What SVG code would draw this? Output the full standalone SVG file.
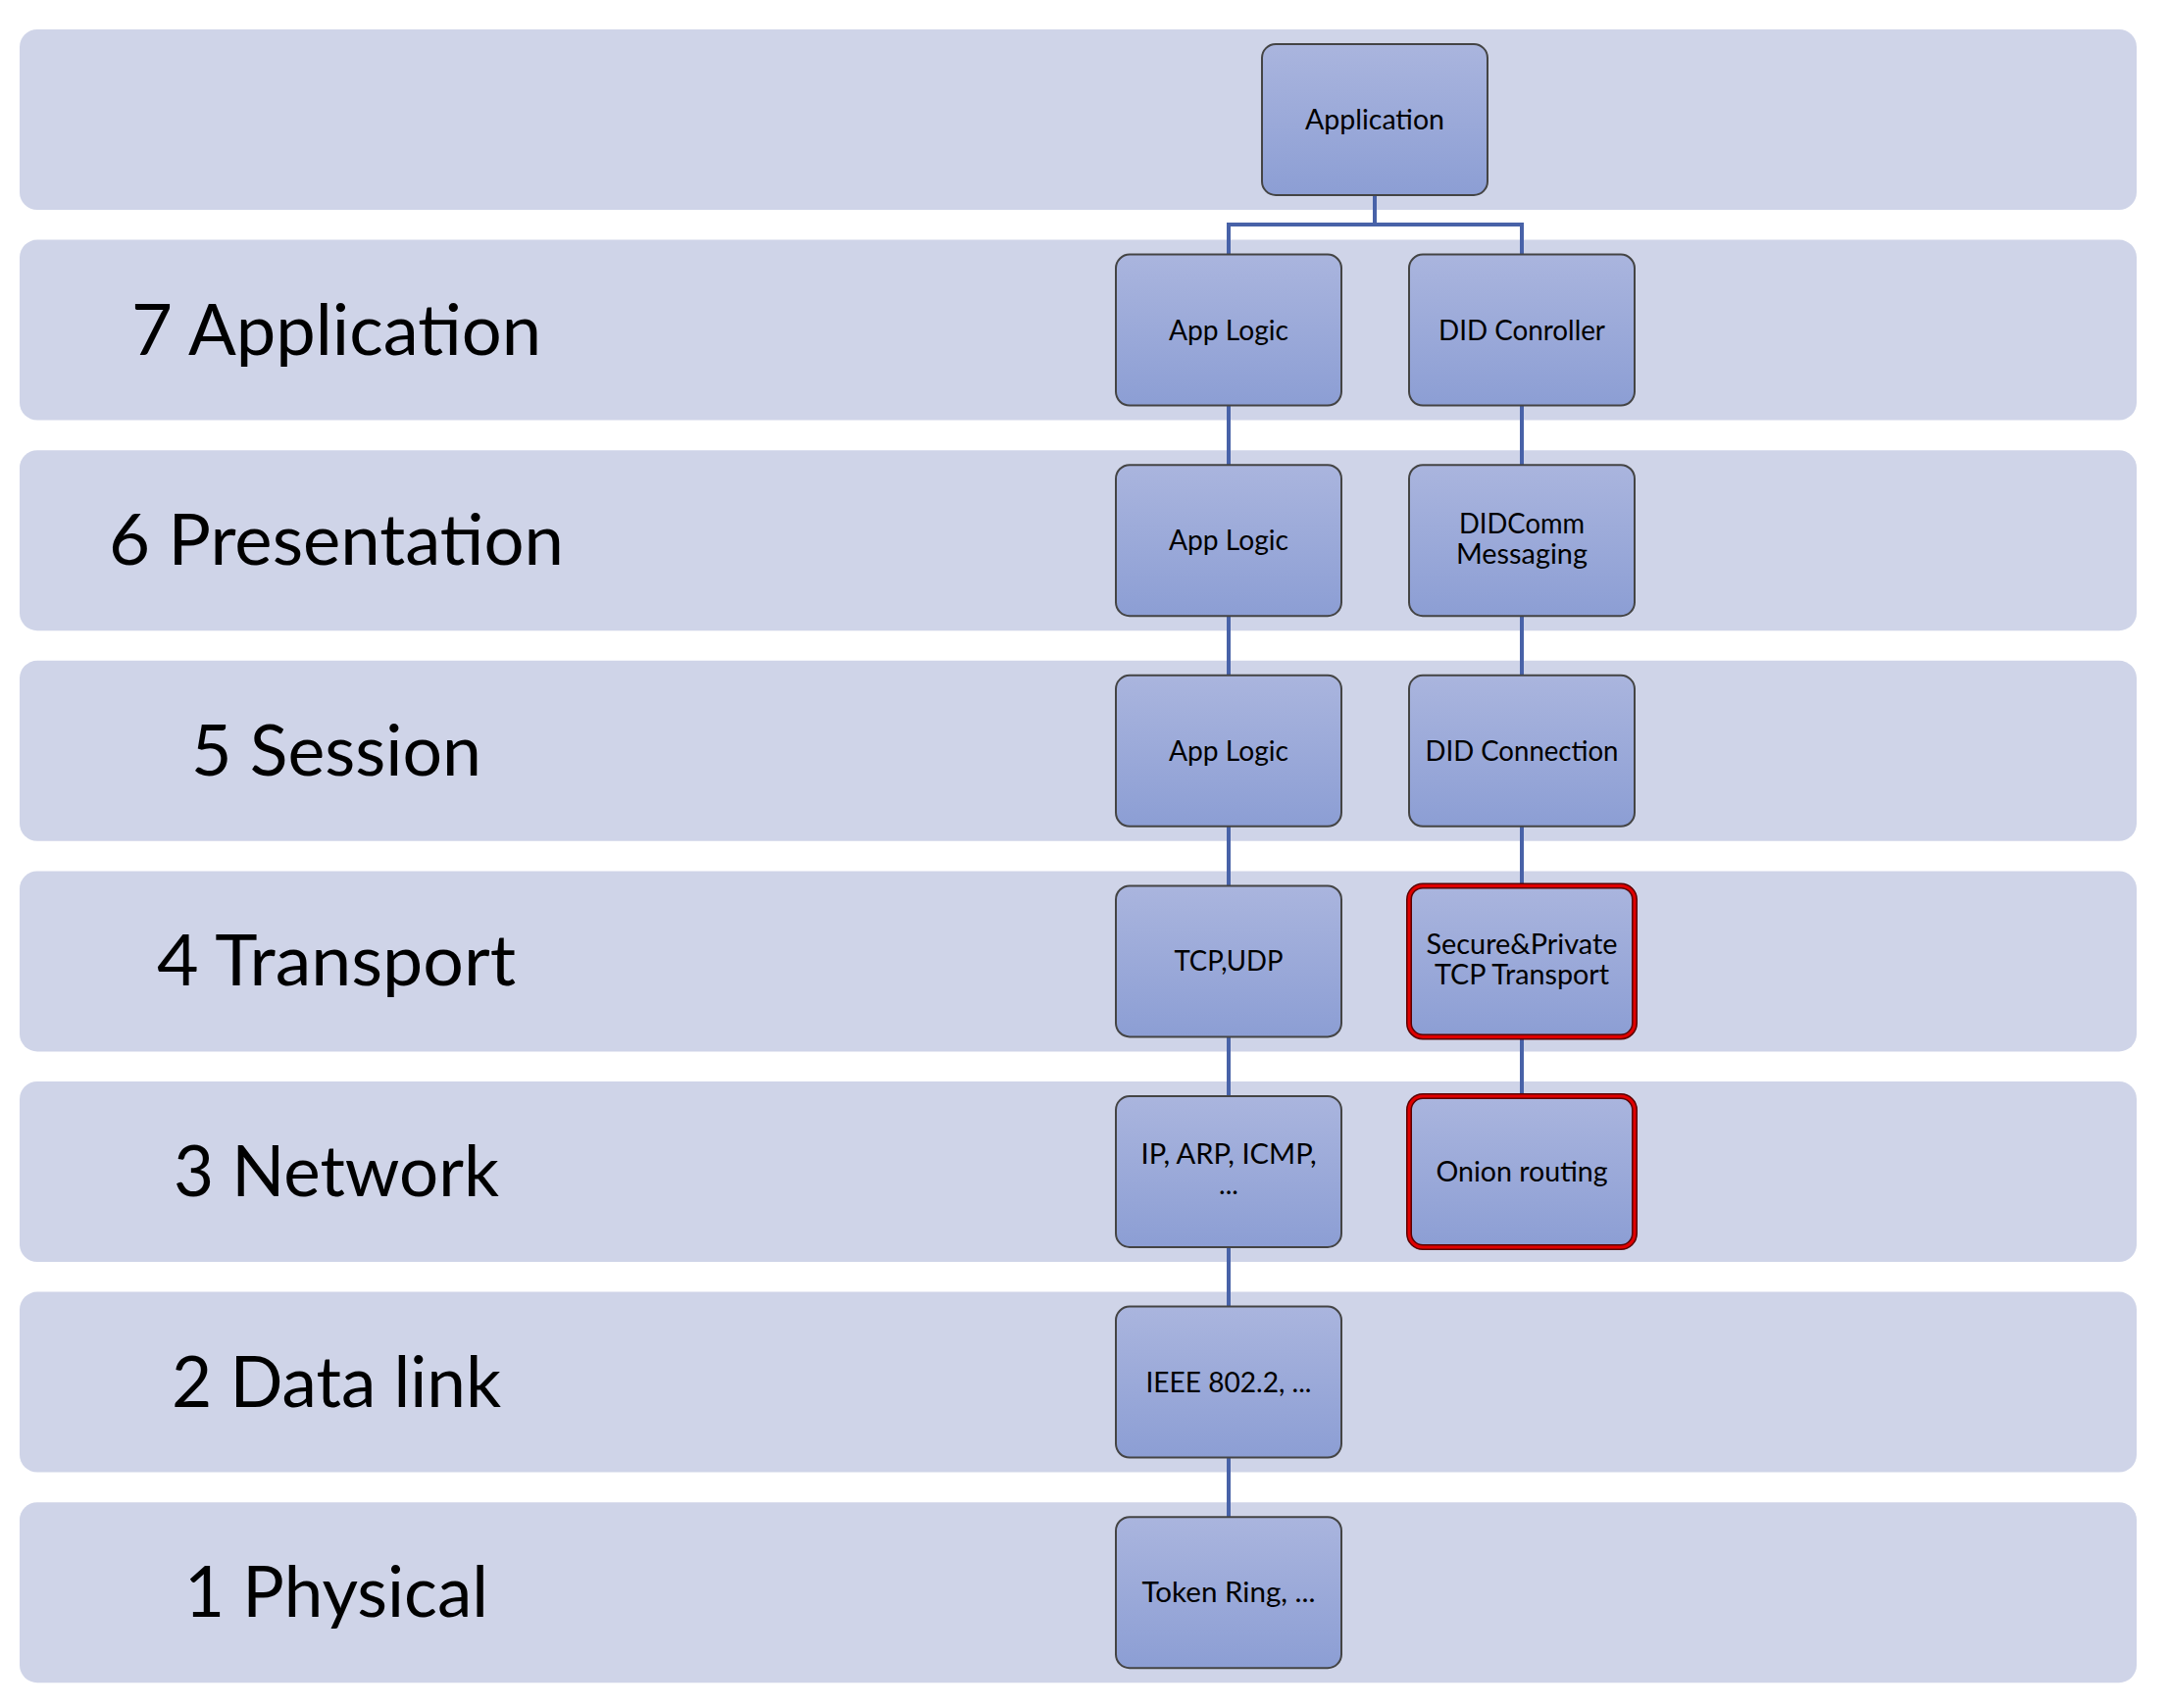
<svg xmlns="http://www.w3.org/2000/svg" width="2212" height="1742" viewBox="0 0 2212 1742">
  <defs>
    <linearGradient id="nodeFill" x1="0" y1="0" x2="0" y2="1">
      <stop offset="0" stop-color="#AAB5DE"/>
      <stop offset="1" stop-color="#8C9ED4"/>
    </linearGradient>
    <style>
      .band { fill: #CFD4E8; }
      .node { fill: url(#nodeFill); stroke: #444444; stroke-width: 2; }
      .hl-out { fill: url(#nodeFill); stroke: #5A0000; stroke-width: 6; }
      .hl-in { fill: none; stroke: #E00000; stroke-width: 3; }
      .conn { fill: none; stroke: #4862A8; stroke-width: 4; }
      .layer { font-family: Lato, "Open Sans", "Liberation Sans", sans-serif; font-size: 72px; fill: #000000; text-anchor: middle; }
      .nt { font-family: Lato, "Open Sans", "Liberation Sans", sans-serif; font-size: 28px; fill: #000000; text-anchor: middle; }
    </style>
  </defs>

  <rect width="2212" height="1742" fill="#FFFFFF"/>

  <g id="bands">
    <rect class="band" x="20" y="30" width="2159" height="184" rx="18"/>
    <rect class="band" x="20" y="244.6" width="2159" height="184" rx="18"/>
    <rect class="band" x="20" y="459.2" width="2159" height="184" rx="18"/>
    <rect class="band" x="20" y="673.8" width="2159" height="184" rx="18"/>
    <rect class="band" x="20" y="888.4" width="2159" height="184" rx="18"/>
    <rect class="band" x="20" y="1103" width="2159" height="184" rx="18"/>
    <rect class="band" x="20" y="1317.6" width="2159" height="184" rx="18"/>
    <rect class="band" x="20" y="1532.2" width="2159" height="184" rx="18"/>
  </g>

  <g id="layer-labels">
    <text class="layer" x="343" y="361.6" textLength="418" lengthAdjust="spacingAndGlyphs">7 Application</text>
    <text class="layer" x="343" y="576.2" textLength="464" lengthAdjust="spacingAndGlyphs">6 Presentation</text>
    <text class="layer" x="343" y="790.8" textLength="296" lengthAdjust="spacingAndGlyphs">5 Session</text>
    <text class="layer" x="343" y="1005.4" textLength="366" lengthAdjust="spacingAndGlyphs">4 Transport</text>
    <text class="layer" x="343" y="1220" textLength="332" lengthAdjust="spacingAndGlyphs">3 Network</text>
    <text class="layer" x="343" y="1434.6" textLength="336" lengthAdjust="spacingAndGlyphs">2 Data link</text>
    <text class="layer" x="343" y="1649.2" textLength="310" lengthAdjust="spacingAndGlyphs">1 Physical</text>
  </g>

  <g id="connectors">
    <path class="conn" d="M1402 199 V229 M1253 229 H1552 M1253 227 V260 M1552 227 V260"/>
    <path class="conn" d="M1253 413.6 V474.2"/>
    <path class="conn" d="M1253 628.2 V688.8"/>
    <path class="conn" d="M1253 842.8 V903.4"/>
    <path class="conn" d="M1253 1057.4 V1118"/>
    <path class="conn" d="M1253 1272 V1332.6"/>
    <path class="conn" d="M1253 1486.6 V1547.2"/>
    <path class="conn" d="M1552 413.6 V474.2"/>
    <path class="conn" d="M1552 628.2 V688.8"/>
    <path class="conn" d="M1552 842.8 V903.4"/>
    <path class="conn" d="M1552 1057.4 V1118"/>
  </g>

  <g id="node-application">
    <rect class="node" x="1287" y="45" width="230" height="154" rx="14"/>
    <text class="nt" x="1402" y="132" textLength="142" lengthAdjust="spacingAndGlyphs">Application</text>
  </g>

  <g id="node-app-logic-7">
    <rect class="node" x="1138" y="259.6" width="230" height="154" rx="14"/>
    <text class="nt" x="1253" y="346.6" textLength="122" lengthAdjust="spacingAndGlyphs">App Logic</text>
  </g>
  <g id="node-did-controller">
    <rect class="node" x="1437" y="259.6" width="230" height="154" rx="14"/>
    <text class="nt" x="1552" y="346.6" textLength="170" lengthAdjust="spacingAndGlyphs">DID Conroller</text>
  </g>

  <g id="node-app-logic-6">
    <rect class="node" x="1138" y="474.2" width="230" height="154" rx="14"/>
    <text class="nt" x="1253" y="561.2" textLength="122" lengthAdjust="spacingAndGlyphs">App Logic</text>
  </g>
  <g id="node-didcomm">
    <rect class="node" x="1437" y="474.2" width="230" height="154" rx="14"/>
    <text class="nt" x="1552" y="544.2" textLength="128" lengthAdjust="spacingAndGlyphs">DIDComm</text>
    <text class="nt" x="1552" y="575.2" textLength="134" lengthAdjust="spacingAndGlyphs">Messaging</text>
  </g>

  <g id="node-app-logic-5">
    <rect class="node" x="1138" y="688.8" width="230" height="154" rx="14"/>
    <text class="nt" x="1253" y="775.8" textLength="122" lengthAdjust="spacingAndGlyphs">App Logic</text>
  </g>
  <g id="node-did-connection">
    <rect class="node" x="1437" y="688.8" width="230" height="154" rx="14"/>
    <text class="nt" x="1552" y="775.8" textLength="197" lengthAdjust="spacingAndGlyphs">DID Connection</text>
  </g>

  <g id="node-tcp-udp">
    <rect class="node" x="1138" y="903.4" width="230" height="154" rx="14"/>
    <text class="nt" x="1253" y="990.4" textLength="111" lengthAdjust="spacingAndGlyphs">TCP,UDP</text>
  </g>
  <g id="node-secure-transport">
    <rect class="hl-out" x="1437" y="903.4" width="230" height="154" rx="14"/>
    <rect class="hl-in" x="1437" y="903.4" width="230" height="154" rx="14"/>
    <text class="nt" x="1552" y="973.4" textLength="195" lengthAdjust="spacingAndGlyphs">Secure&amp;Private</text>
    <text class="nt" x="1552" y="1004.4" textLength="178" lengthAdjust="spacingAndGlyphs">TCP Transport</text>
  </g>

  <g id="node-ip">
    <rect class="node" x="1138" y="1118" width="230" height="154" rx="14"/>
    <text class="nt" x="1253" y="1187" textLength="179" lengthAdjust="spacingAndGlyphs">IP, ARP, ICMP,</text>
    <text class="nt" x="1253" y="1218">...</text>
  </g>
  <g id="node-onion-routing">
    <rect class="hl-out" x="1437" y="1118" width="230" height="154" rx="14"/>
    <rect class="hl-in" x="1437" y="1118" width="230" height="154" rx="14"/>
    <text class="nt" x="1552" y="1205" textLength="175" lengthAdjust="spacingAndGlyphs">Onion routing</text>
  </g>

  <g id="node-ieee">
    <rect class="node" x="1138" y="1332.6" width="230" height="154" rx="14"/>
    <text class="nt" x="1253" y="1419.6" textLength="169" lengthAdjust="spacingAndGlyphs">IEEE 802.2, ...</text>
  </g>

  <g id="node-token-ring">
    <rect class="node" x="1138" y="1547.2" width="230" height="154" rx="14"/>
    <text class="nt" x="1253" y="1634.2" textLength="177" lengthAdjust="spacingAndGlyphs">Token Ring, ...</text>
  </g>
</svg>
